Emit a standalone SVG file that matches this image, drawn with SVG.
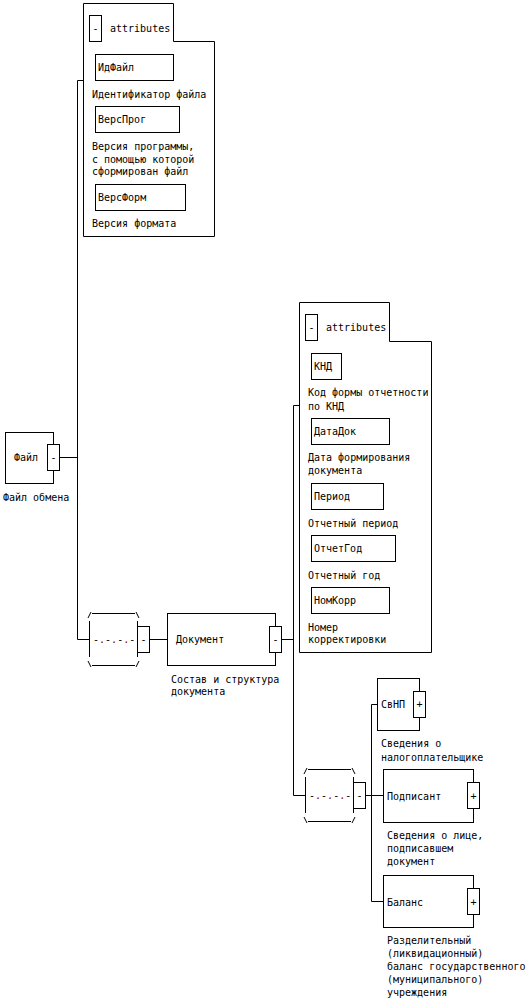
<svg xmlns="http://www.w3.org/2000/svg" width="529" height="1002" viewBox="0 0 529 1002">
<style>
text{font-family:"DejaVu Sans Mono","Liberation Mono",monospace;font-size:10px;fill:#000}
.c{text-anchor:middle}
.bx,path.b{fill:#fff;stroke:#000;stroke-width:1}
.ln{fill:none;stroke:#000;stroke-width:1}
.d{fill:#800000}
</style>
<rect x="0" y="0" width="529" height="1002" style="fill:#fff;stroke:none"/>
<g id="connectors" class="ln">
<path d="M59,457.5H77.5M77.5,80.5V639.5M77.5,80.5H83M77.5,639.5H89"/>
<path d="M149,639.5H167M281,639.5H293.5M293.5,405.5V795.5M293.5,405.5H299M293.5,795.5H305"/>
<path d="M365,795.5H383M371.5,704.5V901.5M371.5,704.5H377M371.5,901.5H383"/>
</g>
<g id="file">
<rect class="bx" x="5.5" y="432.5" width="48" height="51"/>
<rect class="bx" x="47.5" y="444.5" width="12" height="26"/>
<text x="14" y="461">Файл</text>
<text class="c" x="53.5" y="461">-</text>
<text x="3" y="501">Файл обмена</text>
</g>
<g id="attributes1">
<path class="b" d="M83.5,236.5V3.5H173.5V41.5H214.5V236.5Z"/>
<rect class="bx" x="89.5" y="15.5" width="12" height="26"/>
<text class="c" x="95.5" y="32">-</text>
<text x="110" y="32">attributes</text>
<g id="IdFile"><rect class="bx" x="95.5" y="54.5" width="78" height="26"/><text x="98" y="71">ИдФайл</text><text x="92" y="98">Идентификатор файла</text></g>
<g id="VersProg"><rect class="bx" x="95.5" y="106.5" width="84" height="26"/><text x="98" y="123">ВерсПрог</text><text x="92" y="150">Версия программы,</text><text x="92" y="162.5">с помощью которой</text><text x="92" y="175">сформирован файл</text></g>
<g id="VersForm"><rect class="bx" x="95.5" y="184.5" width="90" height="26"/><text x="98" y="201">ВерсФорм</text><text x="92" y="227">Версия формата</text></g>
</g>
<g id="choice1" class="ln">
<path d="M92,613.5H135M92,665.5H135M89.5,621V657M137.5,621V657M88,618L91,612M136,612L139,618M88,661L91,667M136,667L139,661"/>
</g>
<g id="choice1box"><rect class="bx" x="137.5" y="626.5" width="12" height="26"/><text class="c" x="143.5" y="643">-</text><text x="93" y="643">-<tspan class="d">.</tspan>-<tspan class="d">.</tspan>-<tspan class="d">.</tspan>-</text></g>
<g id="document">
<rect class="bx" x="167.5" y="613.5" width="108" height="52"/>
<rect class="bx" x="269.5" y="626.5" width="12" height="26"/>
<text x="176" y="643">Документ</text>
<text class="c" x="275.5" y="643">-</text>
<text x="171" y="683">Состав и структура</text>
<text x="171" y="695">документа</text>
</g>
<g id="attributes2">
<path class="b" d="M299.5,652.5V302.5H389.5V341.5H431.5V652.5Z"/>
<rect class="bx" x="305.5" y="314.5" width="12" height="26"/>
<text class="c" x="311.5" y="331">-</text>
<text x="326" y="331">attributes</text>
<g id="KND"><rect class="bx" x="311.5" y="353.5" width="30" height="26"/><text x="314" y="370">КНД</text><text x="308" y="396">Код формы отчетности</text><text x="308" y="410">по КНД</text></g>
<g id="DataDok"><rect class="bx" x="311.5" y="418.5" width="78" height="26"/><text x="314" y="435">ДатаДок</text><text x="308" y="461">Дата формирования</text><text x="308" y="474">документа</text></g>
<g id="Period"><rect class="bx" x="311.5" y="483.5" width="72" height="26"/><text x="314" y="500">Период</text><text x="308" y="527">Отчетный период</text></g>
<g id="OtchetGod"><rect class="bx" x="311.5" y="535.5" width="84" height="26"/><text x="314" y="552">ОтчетГод</text><text x="308" y="579">Отчетный год</text></g>
<g id="NomKorr"><rect class="bx" x="311.5" y="587.5" width="78" height="26"/><text x="314" y="604">НомКорр</text><text x="308" y="631">Номер</text><text x="308" y="643">корректировки</text></g>
</g>
<g id="choice2" class="ln">
<path d="M308,769.5H351M308,821.5H351M305.5,777V813M353.5,777V813M304,774L307,768M352,768L355,774M304,817L307,823M352,823L355,817"/>
</g>
<g id="choice2box"><rect class="bx" x="353.5" y="782.5" width="12" height="26"/><text class="c" x="359.5" y="799">-</text><text x="309" y="799">-<tspan class="d">.</tspan>-<tspan class="d">.</tspan>-<tspan class="d">.</tspan>-</text></g>
<g id="SvNP">
<rect class="bx" x="377.5" y="678.5" width="42" height="52"/>
<rect class="bx" x="413.5" y="691.5" width="12" height="26"/>
<text x="381" y="708">СвНП</text>
<text class="c" x="419.5" y="708">+</text>
<text x="381" y="747">Сведения о</text>
<text x="381" y="761">налогоплательщике</text>
</g>
<g id="Podpisant">
<rect class="bx" x="383.5" y="769.5" width="90" height="53"/>
<rect class="bx" x="467.5" y="782.5" width="12" height="26"/>
<text x="387" y="800">Подписант</text>
<text class="c" x="473.5" y="800">+</text>
<text x="387" y="839">Сведения о лице,</text>
<text x="387" y="852">подписавшем</text>
<text x="387" y="865">документ</text>
</g>
<g id="Balans">
<rect class="bx" x="383.5" y="875.5" width="90" height="52"/>
<rect class="bx" x="467.5" y="888.5" width="12" height="26"/>
<text x="387" y="906">Баланс</text>
<text class="c" x="473.5" y="906">+</text>
<text x="387" y="944">Разделительный</text>
<text x="387" y="957">(ликвидационный)</text>
<text x="387" y="970">баланс государственного</text>
<text x="387" y="983">(муниципального)</text>
<text x="387" y="996">учреждения</text>
</g>
</svg>
